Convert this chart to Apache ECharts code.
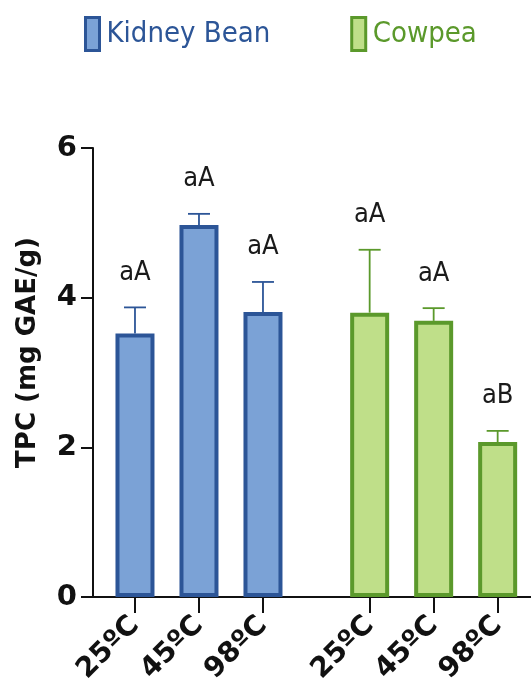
<!DOCTYPE html>
<html>
<head>
<meta charset="utf-8">
<script src="https://cdn.jsdelivr.net/npm/echarts@6/dist/echarts.min.js"></script>
<style>
  html, body { margin: 0; padding: 0; background: #fff; }
  #main { width: 531px; height: 689px; }
</style>
</head>
<body>
<div id="main"></div>
<script>
// temperatures and x positions (second group shifted by a gap)
var temps = ['25ºC', '45ºC', '98ºC'];
var kidneyX = [1, 2, 3];
var cowpeaX = [4.667, 5.667, 6.667];

// TPC means and SD
var kidneyVal = [3.52, 4.97, 3.81];
var kidneyErr = [0.35, 0.15, 0.40];
var cowpeaVal = [3.80, 3.69, 2.07];
var cowpeaErr = [0.84, 0.17, 0.15];

// letters of significance
var kidneyLetters = ['aA', 'aA', 'aA'];
var cowpeaLetters = ['aA', 'aA', 'aB'];

var blueFill = '#7ba2d6', blueLine = '#2c5597';
var greenFill = '#bfdf89', greenLine = '#5b992b';
var narrow = "'DejaVu Sans Condensed', sans-serif";
var heavy = "'DejaVu Sans', sans-serif";

var allX = kidneyX.concat(cowpeaX);
var allLabels = temps.concat(temps);

function pairs(xs, ys) {
    return xs.map(function (x, i) { return [x, ys[i]]; });
}
function errData(xs, ys, es, letters) {
    return xs.map(function (x, i) { return [x, ys[i], es[i], letters[i]]; });
}

function renderErr(color) {
    return function (params, api) {
        var x = api.value(0), v = api.value(1), e = api.value(2);
        var base = api.coord([x, v]);
        var top = api.coord([x, v + e]);
        var cap = 11;
        return {
            type: 'group',
            children: [
                { type: 'line', shape: { x1: base[0], y1: base[1], x2: top[0], y2: top[1] },
                  style: { stroke: color, lineWidth: 1.8 } },
                { type: 'line', shape: { x1: top[0] - cap, y1: top[1], x2: top[0] + cap, y2: top[1] },
                  style: { stroke: color, lineWidth: 1.8 } },
                { type: 'text', x: top[0], y: top[1] - 21,
                  style: { text: api.value(3), fill: '#1a1a1a', fontSize: 27,
                           fontFamily: narrow, align: 'center', verticalAlign: 'bottom' } }
            ]
        };
    };
}

var myChart = echarts.init(document.getElementById('main'));
var option = {
    animation: false,
    legend: {
        left: 79,
        top: 11,
        itemWidth: 14,
        itemHeight: 33,
        itemGap: 80,
        icon: 'rect',
        itemStyle: { borderWidth: 3 },
        data: [
            { name: 'Kidney Bean', textStyle: { color: blueLine } },
            { name: 'Cowpea', textStyle: { color: greenLine } }
        ],
        textStyle: { fontSize: 29, fontFamily: narrow, padding: [0, 0, 0, 2] }
    },
    grid: { left: 93, right: 0, top: 148, bottom: 92 },
    xAxis: {
        type: 'value',
        min: 0.344,
        max: 7.188,
        splitLine: { show: false },
        axisLine: { lineStyle: { color: '#111', width: 2 } },
        axisTick: { customValues: allX, length: 16, lineStyle: { color: '#111', width: 2 } },
        axisLabel: {
            customValues: allX,
            rotate: 45,
            margin: 24,
            color: '#111',
            fontSize: 28,
            fontWeight: 'bold',
            fontFamily: heavy,
            formatter: function (v) {
                var i = allX.indexOf(v);
                return i >= 0 ? allLabels[i] : '';
            }
        }
    },
    yAxis: {
        type: 'value',
        min: 0,
        max: 6,
        interval: 2,
        name: 'TPC (mg GAE/g)',
        nameLocation: 'middle',
        nameGap: 52,
        nameTextStyle: { fontSize: 26, fontWeight: 'bold', color: '#111', fontFamily: heavy, padding: [0, 0, 0, 40] },
        splitLine: { show: false },
        axisLine: { show: true, lineStyle: { color: '#111', width: 2 } },
        axisTick: { show: true, length: 12, lineStyle: { color: '#111', width: 2 } },
        axisLabel: { color: '#111', fontSize: 29, fontWeight: 'bold', fontFamily: heavy, margin: 16 }
    },
    series: [
        {
            name: 'Kidney Bean',
            type: 'bar',
            barWidth: 39,
            barGap: '-100%',
            data: pairs(kidneyX, kidneyVal),
            itemStyle: { color: blueFill, borderColor: blueLine, borderWidth: 4 },
            z: 2
        },
        {
            name: 'Cowpea',
            type: 'bar',
            barWidth: 39,
            barGap: '-100%',
            data: pairs(cowpeaX, cowpeaVal),
            itemStyle: { color: greenFill, borderColor: greenLine, borderWidth: 4 },
            z: 2
        },
        {
            name: 'kErr',
            type: 'custom',
            renderItem: renderErr(blueLine),
            data: errData(kidneyX, kidneyVal, kidneyErr, kidneyLetters),
            z: 1
        },
        {
            name: 'cErr',
            type: 'custom',
            renderItem: renderErr(greenLine),
            data: errData(cowpeaX, cowpeaVal, cowpeaErr, cowpeaLetters),
            z: 1
        }
    ]
};
myChart.setOption(option);
</script>
</body>
</html>
